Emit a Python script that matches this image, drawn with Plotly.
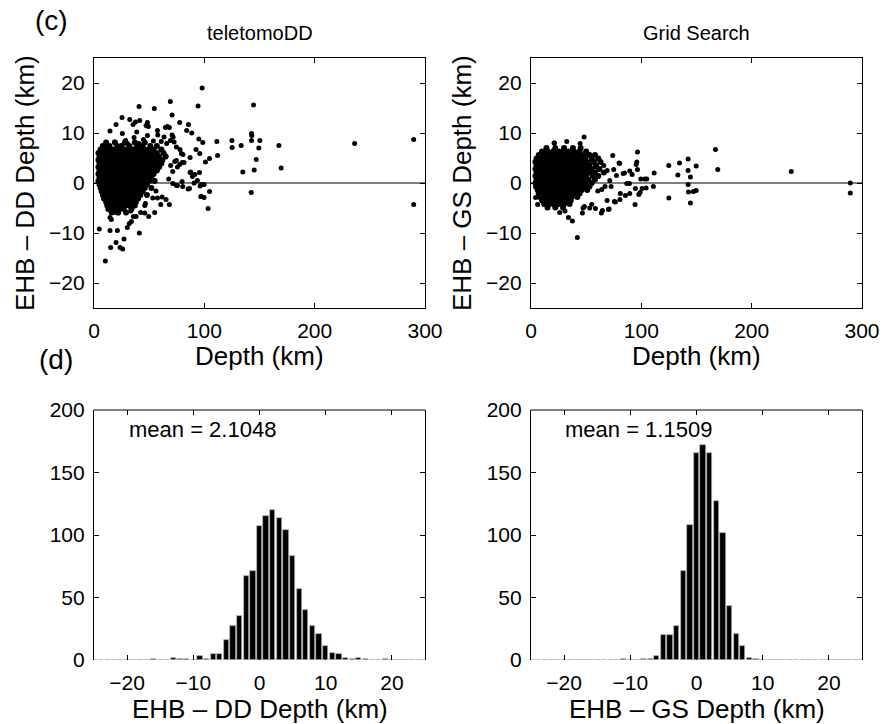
import plotly.graph_objects as go

# ---------------- data ----------------
# (c) teletomoDD: outlying points (depth km, EHB-DD depth difference km)
dd_out_x = [98.0, 94.3, 144.6, 95.0, 98.6, 92.5, 95.9, 111.3, 125.0, 125.2, 133.4, 142.8, 143.0,
            142.8, 150.3, 149.4, 167.6, 236.2, 289.7, 289.7, 104.7, 101.0, 112.0, 147.0, 169.6,
            134.9, 145.2, 95.6, 91.4, 99.8, 96.2, 96.8, 99.8, 104.7, 142.5, 103.4,
            69.2, 40.8, 54.7, 25.4, 32.4, 41.4, 70.8, 20.0, 77.7, 85.6, 64.7, 66.5, 84.0, 88.6, 14.5,
            87.7, 89.2, 79.8, 74.7, 85.3, 80.0, 80.6, 74.7, 71.7, 69.2, 77.7, 74.7,
            35.4, 37.5, 48.4, 47.2, 49.3, 68.3, 25.7, 38.7, 57.5, 57.8, 36.3, 48.4, 63.5, 70.8,
            18.7, 28.7, 30.2, 40.8, 44.8, 53.8, 61.0, 65.9, 72.6, 78.0, 79.2, 12.1, 12.7,
            4.2, 5.4, 4.2, 6.0, 87.1, 69.5, 73.2, 75.6, 81.6, 71.4, 87.1, 80.4, 67.7, 90.7, 93.7,
            4.8, 14.5, 21.2, 41.1, 10.3, 15.1, 20.0, 23.6, 26.0, 27.2, 30.2, 32.0, 33.9, 35.7,
            38.1, 33.3, 42.3, 46.0, 49.6, 55.0, 14.5, 15.7, 19.4, 21.8, 15.7, 10.9, 9.7, 46.6,
            46.0, 53.2, 57.5, 61.7, 65.3, 60.5, 68.3, 56.2, 71.4, 75.6, 86.5, 97.4, 97.4]
dd_out_y = [19.0, 15.4, 15.6, 8.8, 8.1, 6.7, 5.9, 8.3, 8.5, 7.1, 7.5, 9.9, 9.5,
            8.5, 8.5, 7.0, 7.5, 7.9, 8.7, -4.3, 4.9, 4.2, 5.5, 4.7, 3.0,
            2.2, 2.6, 2.1, 1.7, -0.3, -0.6, -2.7, -2.9, -1.7, -1.9, -5.1,
            16.3, 15.3, 14.9, 13.1, 12.7, 12.5, 13.6, 11.7, 12.1, 11.7, 11.1, 11.3, 10.5, 10.0, 10.4,
            2.2, 1.3, 0.3, -0.5, -1.2, 4.1, 5.7, 7.2, 9.2, 8.5, 3.7, 4.5,
            11.7, 12.2, 12.1, 11.5, 11.3, 11.1, 9.9, 10.2, 10.5, 9.6, 9.1, 9.5, 9.2, 9.6,
            8.2, 8.5, 7.9, 7.9, 8.7, 8.4, 8.3, 7.9, 8.2, 6.7, 5.9, 7.2, 6.0,
            4.7, 3.2, 2.0, 0.8, 5.1, 3.5, 4.3, 3.2, 4.1, 2.3, 2.1, -0.7, 0.8, 0.0, 0.5,
            -9.2, -9.5, -9.5, -10.0, -15.6, -12.9, -11.9, -12.9, -13.2, -11.2, -8.9, -8.1, -7.7, -6.7,
            -6.7, -5.6, -5.9, -6.0, -6.7, -5.9, -6.9, -7.3, -5.9, -6.0, -4.7, -3.5, -3.0, -4.1,
            -4.5, -3.0, -3.0, -2.8, -3.3, -4.3, -4.3, -1.6, -0.1, -0.5, -1.1, -2.7, -0.3]

# (c) teletomoDD: dense core, rows of (difference, [depths])
dd_core_rows = [
    (8.1, [11, 19, 28, 37, 46]),
    (7.4, [8, 14, 21, 25, 32, 39, 44, 51, 57]),
    (6.7, [6, 10, 13, 17, 20, 24, 28, 31, 35, 38, 42, 46, 50, 54, 61]),
    (6.0, [4, 8, 11, 15, 18, 22, 26, 29, 33, 36, 40, 44, 47, 52, 57, 63]),
    (5.3, [5, 9, 13, 16, 20, 23, 27, 30, 34, 38, 41, 45, 48, 51, 55, 59, 65]),
    (4.6, [4, 7, 11, 14, 18, 21, 25, 28, 32, 35, 39, 42, 46, 50, 53, 58, 62]),
    (3.9, [5, 9, 12, 16, 19, 23, 26, 30, 33, 37, 40, 44, 48, 52, 56, 61]),
    (3.2, [4, 7, 10, 14, 17, 21, 24, 28, 31, 35, 38, 42, 46, 49, 54, 59]),
    (2.5, [5, 8, 12, 15, 19, 22, 26, 29, 33, 36, 40, 44, 47, 52, 57]),
    (1.8, [4, 7, 10, 13, 17, 20, 24, 27, 31, 34, 38, 41, 45, 49, 54]),
    (1.1, [5, 8, 11, 15, 18, 22, 25, 29, 32, 36, 39, 43, 47, 52]),
    (0.4, [4, 7, 10, 13, 16, 20, 23, 27, 30, 34, 37, 41, 45, 50, 55]),
    (-0.3, [5, 8, 11, 14, 18, 21, 25, 28, 32, 35, 39, 43, 48]),
    (-1.0, [6, 9, 12, 16, 19, 23, 26, 30, 33, 37, 41, 46, 52]),
    (-1.7, [7, 10, 14, 17, 21, 24, 28, 31, 35, 39, 44]),
    (-2.4, [8, 11, 15, 19, 22, 26, 29, 33, 37, 42, 48]),
    (-3.1, [9, 13, 17, 20, 24, 27, 31, 35, 40]),
    (-3.8, [11, 14, 18, 22, 25, 29, 33, 38]),
    (-4.5, [12, 16, 20, 24, 28, 32, 37]),
    (-5.2, [13, 18, 23, 27, 34]),
    (-5.9, [16, 22, 29]),
]

# (c) Grid Search: outlying points
gs_out_x = [48.1, 32.4, 20.9, 44.5, 74.1, 96.5, 95.9, 95.3, 79.8, 84.7, 91.6, 96.5, 111.6, 99.5,
            103.1, 104.9, 86.8, 89.2, 94.6, 98.9, 97.7, 100.7, 104.3, 110.9, 94.3, 85.6, 80.6,
            76.5, 70.2, 63.8, 58.4, 55.0, 48.4, 46.6, 42.0, 37.5, 33.9, 124.9, 134.6, 133.1,
            124.9, 142.4, 142.4, 144.5, 149.7, 142.4, 142.7, 147.2, 149.7, 144.5, 167.2, 169.3,
            235.9, 289.4, 289.4,
            21.2, 12.7, 15.7, 80.4, 89.5, 83.5, 4.2, 5.4, 4.2, 6.0, 10.9, 13.9, 15.1, 19.4, 26.0,
            30.8, 47.2, 53.2, 64.7, 70.8, 69.0, 75.6, 81.0, 89.5, 64.1, 67.1, 60.5, 72.6, 71.4,
            77.4, 75.0, 69.0, 65.9, 58.7, 55.6]
gs_out_y = [9.2, 8.3, 8.0, 7.9, 5.5, 6.2, 4.2, 3.7, 4.0, 2.0, 1.7, 2.7, 2.0, 0.8,
            0.8, 0.8, -0.1, -0.1, -1.1, -1.9, -2.3, -1.1, -1.0, -0.7, -4.3, -2.5, -3.3,
            -3.8, -5.3, -6.0, -5.1, -4.3, -4.7, -6.0, -10.9, -7.6, -6.9, 3.5, 4.0, 1.6,
            -3.0, 4.8, 2.5, 1.2, 3.4, -0.3, -1.8, -1.7, -1.5, -4.0, 6.7, 2.7,
            2.3, 0.0, -2.0,
            8.0, 6.0, 6.1, 3.9, 2.4, 1.9, -0.8, 0.0, -2.9, -4.3, -2.0, -2.9, -4.0, -3.1, -5.9,
            -5.6, -5.0, -5.0, -5.5, -5.2, -3.5, -3.7, -2.1, -2.1, -1.3, -0.7, -1.6, -0.7, 0.5,
            1.5, 2.7, 2.5, 3.5, 3.2, 4.5]

# (c) Grid Search: dense core
gs_core_rows = [
    (7.0, [14, 22, 30, 38, 45]),
    (6.3, [10, 15, 20, 25, 29, 34, 39, 44, 50]),
    (5.6, [7, 11, 14, 18, 22, 25, 29, 33, 36, 40, 44, 48, 53, 58]),
    (4.9, [5, 9, 12, 16, 19, 23, 27, 30, 34, 37, 41, 45, 49, 55, 61]),
    (4.2, [4, 7, 11, 14, 18, 21, 25, 28, 32, 35, 39, 43, 47, 51, 57, 63]),
    (3.5, [5, 9, 12, 16, 19, 23, 26, 30, 33, 37, 41, 44, 48, 53, 59]),
    (2.8, [4, 7, 10, 14, 17, 21, 24, 28, 31, 35, 38, 42, 46, 50, 55, 62]),
    (2.1, [5, 8, 12, 15, 19, 22, 26, 29, 33, 36, 40, 44, 48, 53, 58, 66]),
    (1.4, [4, 7, 10, 13, 17, 20, 24, 27, 31, 34, 38, 41, 45, 50, 56, 61]),
    (0.7, [5, 8, 11, 15, 18, 22, 25, 29, 32, 36, 39, 43, 47, 52, 58]),
    (0.0, [4, 7, 10, 13, 16, 20, 23, 27, 30, 34, 37, 41, 45, 50, 55]),
    (-0.7, [5, 8, 11, 14, 18, 21, 25, 28, 32, 35, 39, 43, 48, 53]),
    (-1.4, [6, 9, 12, 16, 19, 23, 26, 30, 33, 37, 41, 46, 51]),
    (-2.1, [7, 10, 14, 17, 21, 24, 28, 31, 35, 39, 44]),
    (-2.8, [8, 11, 15, 19, 22, 26, 29, 33, 37, 42]),
    (-3.5, [10, 13, 17, 21, 24, 28, 32, 36]),
    (-4.2, [12, 16, 20, 25, 30, 35]),
    (-4.9, [15, 22, 29]),
]

# (d) histograms: bin centres (km) and counts
hist_bins = list(range(-25, 26))
dd_counts = [0, 0, 0, 0, 0, 0, 0, 0, 0, 1, 0, 0, 2, 1, 1, 0, 3, 1, 5, 5, 16, 27, 35, 67, 71,
             107, 115, 120, 114, 104, 83, 57, 40, 27, 21, 11, 6, 5, 2, 1, 2, 1, 0, 0, 1, 0,
             0, 0, 0, 0, 0]
gs_counts = [0, 0, 0, 0, 0, 0, 0, 0, 0, 0, 0, 0, 0, 0, 1, 0, 0, 1, 1, 3, 20, 20, 27, 71, 108,
             166, 172, 166, 127, 102, 43, 21, 11, 2, 1, 0, 0, 0, 0, 0, 0, 0, 0, 0, 0, 0,
             0, 0, 0, 0, 0]
dd_mean = 2.1048
gs_mean = 1.1509

scatter_xticks = [0, 100, 200, 300]
scatter_yticks = [-20, -10, 0, 10, 20]
hist_xticks = [-20, -10, 0, 10, 20]
hist_yticks = [0, 50, 100, 150, 200]


def flatten(rows):
    xs, ys = [], []
    for yv, xr in rows:
        for xv in xr:
            xs.append(xv)
            ys.append(yv)
    return xs, ys


dd_core_x, dd_core_y = flatten(dd_core_rows)
gs_core_x, gs_core_y = flatten(gs_core_rows)

# ---------------- figure ----------------
W, H = 883, 724
FONT = "Liberation Sans, Arial, Helvetica, sans-serif"

fig = go.Figure()

col_dom = [[94 / W, 425 / W], [531 / W, 862 / W]]
top_dom = [(H - 308) / H, (H - 58) / H]
bot_dom = [(H - 660) / H, (H - 410) / H]

for cx, cy, ox, oy, xa, ya in [(dd_core_x, dd_core_y, dd_out_x, dd_out_y, "x", "y"),
                               (gs_core_x, gs_core_y, gs_out_x, gs_out_y, "x2", "y2")]:
    fig.add_trace(go.Scatter(x=cx, y=cy, mode="markers", marker=dict(color="black", size=6),
                             xaxis=xa, yaxis=ya, showlegend=False))
    fig.add_trace(go.Scatter(x=ox, y=oy, mode="markers", marker=dict(color="black", size=5),
                             xaxis=xa, yaxis=ya, showlegend=False))

bar_style = dict(color="black", line=dict(color="#b4b4b4", width=0.7))
fig.add_trace(go.Bar(x=hist_bins, y=dd_counts, width=0.8, marker=bar_style, xaxis="x3",
                     yaxis="y3", showlegend=False))
fig.add_trace(go.Bar(x=hist_bins, y=gs_counts, width=0.8, marker=bar_style, xaxis="x4",
                     yaxis="y4", showlegend=False))

tickfont = dict(family=FONT, size=21, color="black")
common = dict(ticks="inside", ticklen=5, tickwidth=1, tickcolor="black", showgrid=False,
              zeroline=False, tickfont=tickfont, showline=True, linecolor="black",
              linewidth=1.2, mirror="ticks", fixedrange=True, automargin=False,
              ticklabelstandoff=4)
nobottom = {**common, "linecolor": "rgba(0,0,0,0)"}

fig.update_layout(
    width=W, height=H, margin=dict(l=0, r=0, t=0, b=0, pad=0, autoexpand=False),
    paper_bgcolor="white", plot_bgcolor="white", bargap=0, showlegend=False,
    xaxis=dict(domain=col_dom[0], anchor="y", range=[0, 300], tickvals=scatter_xticks, **common),
    yaxis=dict(domain=top_dom, anchor="x", range=[-25, 25], tickvals=scatter_yticks, **common),
    xaxis2=dict(domain=col_dom[1], anchor="y2", range=[0, 300], tickvals=scatter_xticks, **common),
    yaxis2=dict(domain=top_dom, anchor="x2", range=[-25, 25], tickvals=scatter_yticks, **common),
    xaxis3=dict(domain=col_dom[0], anchor="y3", range=[-25, 25], tickvals=hist_xticks, **nobottom),
    yaxis3=dict(domain=bot_dom, anchor="x3", range=[0, 200], tickvals=hist_yticks, **common),
    xaxis4=dict(domain=col_dom[1], anchor="y4", range=[-25, 25], tickvals=hist_xticks, **nobottom),
    yaxis4=dict(domain=bot_dom, anchor="x4", range=[0, 200], tickvals=hist_yticks, **common),
)

shapes = []
# zero lines in scatter panels
for xa, ya in [("x", "y"), ("x2", "y2")]:
    shapes.append(dict(type="line", xref=xa + " domain", yref=ya, x0=0, x1=1, y0=0, y1=0,
                       line=dict(color="#555555", width=1.5), layer="below"))
# histogram frames: solid top, dotted grey baseline
for xa, ya in [("x3", "y3"), ("x4", "y4")]:
    shapes.append(dict(type="line", xref=xa + " domain", yref=ya + " domain", x0=0, x1=1,
                       y0=1, y1=1, line=dict(color="black", width=1.2)))
    shapes.append(dict(type="line", xref=xa + " domain", yref=ya, x0=0, x1=1, y0=0, y1=0,
                       line=dict(color="#bbbbbb", width=1, dash="dot"), layer="below"))
fig.update_layout(shapes=shapes)

ann = []


def text(x, y, s, size, angle=0):
    ann.append(dict(x=x / W, y=(H - y) / H, xref="paper", yref="paper", text=s,
                    showarrow=False, xanchor="center", yanchor="middle", textangle=angle,
                    font=dict(family=FONT, size=size, color="black")))


text(51, 20, "(c)", 28)
text(56, 359, "(d)", 28)
text(259.5, 33, "teletomoDD", 20)
text(696.5, 33, "Grid Search", 20)
text(259.5, 356, "Depth (km)", 26)
text(696.5, 356, "Depth (km)", 26)
text(259.5, 709, "EHB – DD Depth (km)", 26)
text(696.5, 709, "EHB – GS Depth (km)", 26)
text(25, 183, "EHB – DD Depth (km)", 26, -90)
text(462, 183, "EHB – GS Depth (km)", 26, -90)
text(202, 429, "mean = %.4f" % dd_mean, 22)
text(638, 429, "mean = %.4f" % gs_mean, 22)
fig.update_layout(annotations=ann)

fig.write_html("out.html")
